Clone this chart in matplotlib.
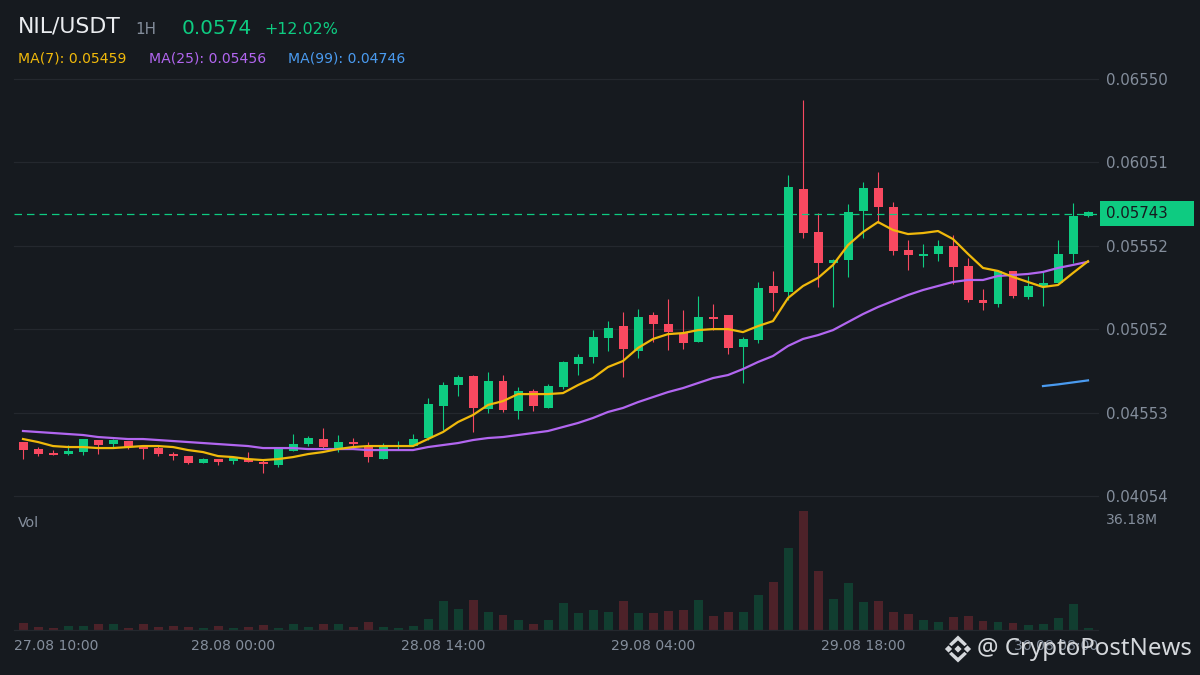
import matplotlib
matplotlib.use("Agg")
from matplotlib import pyplot as plt
from matplotlib.patches import Polygon, Rectangle
import numpy as np

opens = [.04377,.04335,.04311,.04305,.04317,.04389,.04365,.04383,.04353,.04341,.04305,.04293,
         .04251,.04275,.04263,.04275,.04257,.04239,.04323,.04365,.04395,.04341,.04377,.04347,
         .04275,.04347,.04353,.04401,.04593,.04718,.04772,.04575,.04742,.04563,.04682,.04581,
         .04706,.04844,.04886,.05000,.05071,.04922,.05137,.05083,.05029,.04976,.05125,.05137,
         .04946,.04988,.05311,.05275,.05892,.05634,.05449,.05467,.05760,.05898,.05784,.05526,
         .05491,.05503,.05550,.05431,.05227,.05203,.05401,.05245,.05305,.05329,.05503,.05730]
closes = [.04329,.04305,.04299,.04323,.04395,.04359,.04389,.04347,.04335,.04305,.04293,.04251,
          .04275,.04257,.04281,.04257,.04245,.04335,.04365,.04401,.04347,.04377,.04365,.04287,
          .04347,.04353,.04395,.04605,.04718,.04766,.04581,.04742,.04569,.04682,.04593,.04712,
          .04856,.04886,.05006,.05059,.04934,.05125,.05083,.05035,.04970,.05125,.05113,.04940,
          .04994,.05299,.05269,.05904,.05628,.05449,.05467,.05754,.05898,.05784,.05520,.05497,
          .05503,.05550,.05425,.05227,.05209,.05401,.05251,.05311,.05329,.05503,.05730,.05754]
highs = [.04377,.04347,.04329,.04359,.04395,.04389,.04395,.04383,.04353,.04353,.04317,.04293,
         .04281,.04275,.04281,.04317,.04269,.04335,.04425,.04413,.04461,.04419,.04401,.04377,
         .04371,.04383,.04425,.04640,.04736,.04778,.04778,.04796,.04778,.04706,.04694,.04724,
         .04862,.04904,.05047,.05101,.05155,.05173,.05155,.05233,.05167,.05251,.05203,.05137,
         .05006,.05335,.05401,.05976,.06424,.05748,.05473,.05802,.05934,.05993,.05814,.05586,
         .05562,.05586,.05616,.05479,.05293,.05407,.05401,.05371,.05395,.05586,.05808,.05760]
lows = [.04275,.04293,.04299,.04299,.04299,.04305,.04347,.04335,.04275,.04293,.04269,.04245,
        .04251,.04239,.04245,.04257,.04191,.04227,.04323,.04353,.04335,.04317,.04335,.04257,
        .04275,.04329,.04353,.04389,.04449,.04652,.04437,.04551,.04557,.04515,.04563,.04581,
        .04694,.04778,.04850,.04922,.04766,.04880,.04976,.04928,.04934,.04976,.05047,.04904,
        .04730,.04970,.05161,.05227,.05598,.05305,.05185,.05365,.05598,.05688,.05497,.05407,
        .05425,.05461,.05323,.05215,.05167,.05185,.05239,.05233,.05191,.05329,.05449,.05724]
volumes = [1.93,.71,.40,1.01,1.01,1.62,1.62,.40,1.62,.71,1.01,.71,
           .40,1.01,.40,.71,1.32,.40,1.62,.71,1.62,1.62,.71,2.24,
           .71,.40,1.01,3.16,8.68,6.22,8.98,5.30,4.38,2.85,1.62,2.85,
           8.06,5.00,5.92,5.30,8.68,5.00,5.00,5.61,5.92,8.98,4.08,5.30,
           5.30,10.52,14.50,24.93,36.18,17.87,9.29,14.20,8.37,8.68,5.30,4.69,
           2.85,2.24,3.77,4.08,2.54,2.24,1.93,1.32,1.62,3.46,7.76,.40]
ma7 = [.04395,.04377,.04353,.04347,.04347,.04341,.04341,.04347,.04353,.04353,.04347,.04329,
       .04317,.04293,.04287,.04275,.04269,.04275,.04287,.04305,.04317,.04335,.04347,.04353,
       .04353,.04353,.04353,.04395,.04437,.04497,.04539,.04599,.04622,.04664,.04664,.04664,
       .04670,.04718,.04760,.04826,.04862,.04940,.04994,.05023,.05029,.05047,.05053,.05053,
       .05035,.05071,.05101,.05239,.05311,.05359,.05437,.05556,.05634,.05694,.05646,.05622,
       .05628,.05640,.05592,.05503,.05419,.05401,.05365,.05335,.05305,.05317,.05389,.05459]
ma25 = [.04443,.04437,.04431,.04425,.04419,.04407,.04401,.04395,.04395,.04389,.04383,.04377,
        .04371,.04365,.04359,.04353,.04341,.04341,.04341,.04335,.04335,.04335,.04335,.04329,
        .04329,.04329,.04329,.04347,.04359,.04371,.04389,.04401,.04407,.04419,.04431,.04443,
        .04467,.04491,.04521,.04557,.04581,.04616,.04646,.04676,.04700,.04730,.04760,.04778,
        .04814,.04856,.04892,.04952,.04994,.05017,.05047,.05095,.05143,.05185,.05221,.05257,
        .05287,.05311,.05335,.05347,.05347,.05371,.05377,.05383,.05395,.05419,.05437,.05456]
ma99_idx = [68, 69, 70, 71]
ma99 = [.04712, .04722, .04734, .04746]

price_ticks = [.06550, .06051, .05552, .05052, .04553, .04054]
time_ticks = [14, 28, 42, 56]
time_labels = ['27.08 10:00', '28.08 00:00', '28.08 14:00', '29.08 04:00', '29.08 18:00', '30.08 08:00']
last_price = .05743
vol_top = 36.18

BG = '#161A1F'
GRID = '#24282E'
GRAY = '#848E9C'
GREEN = '#0ECB81'
RED = '#F84960'
W, H = 1200, 675


def px_box(left, top, right, bottom):
    return [left / W, 1 - bottom / H, (right - left) / W, (bottom - top) / H]


def label(x, y, s, color, size, **kw):
    return fig.text(x / W, 1 - y / H, s, color=color, fontsize=size, va='center', **kw)


fig = plt.figure(figsize=(12, 6.75), dpi=100, facecolor=BG)
ax = fig.add_axes(px_box(14, 79, 1098, 496), facecolor=BG)
vx = fig.add_axes(px_box(14, 511, 1098, 629.5), facecolor=BG)

xs = np.arange(len(opens))
o, c, h, l = map(np.array, (opens, closes, highs, lows))
up = c >= o
colors = np.where(up, GREEN, RED)

# candles
ax.vlines(xs, l, h, colors=colors, linewidth=0.8, zorder=2)
ax.bar(xs, np.abs(c - o), bottom=np.minimum(o, c), width=0.6, color=colors, linewidth=0, zorder=2)
ax.axhline(last_price, color=GREEN, linewidth=0.9, dashes=(6, 4), zorder=3)

ax.plot(xs, ma25, color='#B266F0', linewidth=1.6, zorder=4)
ax.plot(xs, ma7, color='#F0B90B', linewidth=1.6, zorder=5)
ax.plot(ma99_idx, ma99, color='#4A9BF0', linewidth=1.6, zorder=4)

ax.set_xlim((14 - 23) / 15, (1098 - 23) / 15)
ax.set_ylim(price_ticks[-1], price_ticks[0])
ax.set_xticks([])
ax.yaxis.tick_right()
ax.set_yticks(price_ticks)
ax.set_yticklabels(['%.5f' % p for p in price_ticks])
ax.tick_params(axis='y', length=0, pad=6, labelcolor=GRAY, labelsize=10.8)
ax.grid(axis='y', color=GRID, linewidth=0.9, clip_on=False)
ax.set_axisbelow(True)
for s in ax.spines.values():
    s.set_visible(False)

# volume
vol_colors = np.where(up, '#113E30', '#4D2229')
vx.bar(xs, volumes, width=0.6, color=vol_colors, linewidth=0)
vx.set_xlim(ax.get_xlim())
vx.set_ylim(0, vol_top)
vx.set_yticks([])
# first and last time labels are pinned to the pane edges
x0, x1 = ax.get_xlim()
vx.set_xticks([x0] + time_ticks + [x1])
vx.set_xticklabels(time_labels)
vx.get_xticklabels()[0].set_ha('left')
vx.get_xticklabels()[-1].set_ha('right')
vx.tick_params(axis='x', length=0, pad=7, labelcolor=GRAY, labelsize=10.1)
for name, s in vx.spines.items():
    s.set_visible(name == 'bottom')
    s.set_color(GRID)
    s.set_linewidth(0.9)

# header
label(18, 27, 'NIL/USDT', '#EAECEF', 15.8)
label(135, 29, '1H', GRAY, 10.9)
label(182, 28, '0.0574', GREEN, 14.4)
label(264, 29, '+12.02%', GREEN, 11.4)
label(18, 58, 'MA(7): 0.05459', '#F0B90B', 10.05)
label(149, 58, 'MA(25): 0.05456', '#B266F0', 10.05)
label(288, 58, 'MA(99): 0.04746', '#4A9BF0', 10.05)
label(18, 523, 'Vol', GRAY, 10.2)
label(1106, 520, '36.18M', GRAY, 10.1)

# last price tag
fig.add_artist(Rectangle((1100 / W, 1 - 226 / H), 94 / W, 25 / H, transform=fig.transFigure,
                         facecolor=GREEN, edgecolor='none'))
label(1106, 214, '%.5f' % last_price, '#16191E', 10.8)

# watermark
label(977, 649, '@ CryptoPostNews', '#D5D8DC', 17.3, family='Noto Sans')
cx, cy = 958, 649
for dx, dy, r in [(0, 0, 3.6), (-9.5, 0, 3.6), (9.5, 0, 3.6)]:
    pts = [(cx + dx - r, cy + dy), (cx + dx, cy + dy - r), (cx + dx + r, cy + dy), (cx + dx, cy + dy + r)]
    fig.add_artist(Polygon([(a / W, 1 - b / H) for a, b in pts], transform=fig.transFigure,
                           facecolor='#D5D8DC', edgecolor='none'))
for sgn in (-1, 1):
    pts = [(cx, cy + sgn * 13.5), (cx + 9, cy + sgn * 4.9), (cx + 6.4, cy + sgn * 2.8), (cx, cy + sgn * 8.6),
           (cx - 6.4, cy + sgn * 2.8), (cx - 9, cy + sgn * 4.9)]
    fig.add_artist(Polygon([(a / W, 1 - b / H) for a, b in pts], transform=fig.transFigure,
                           facecolor='#D5D8DC', edgecolor='none'))

fig.savefig('out.png', dpi=100, facecolor=BG)
